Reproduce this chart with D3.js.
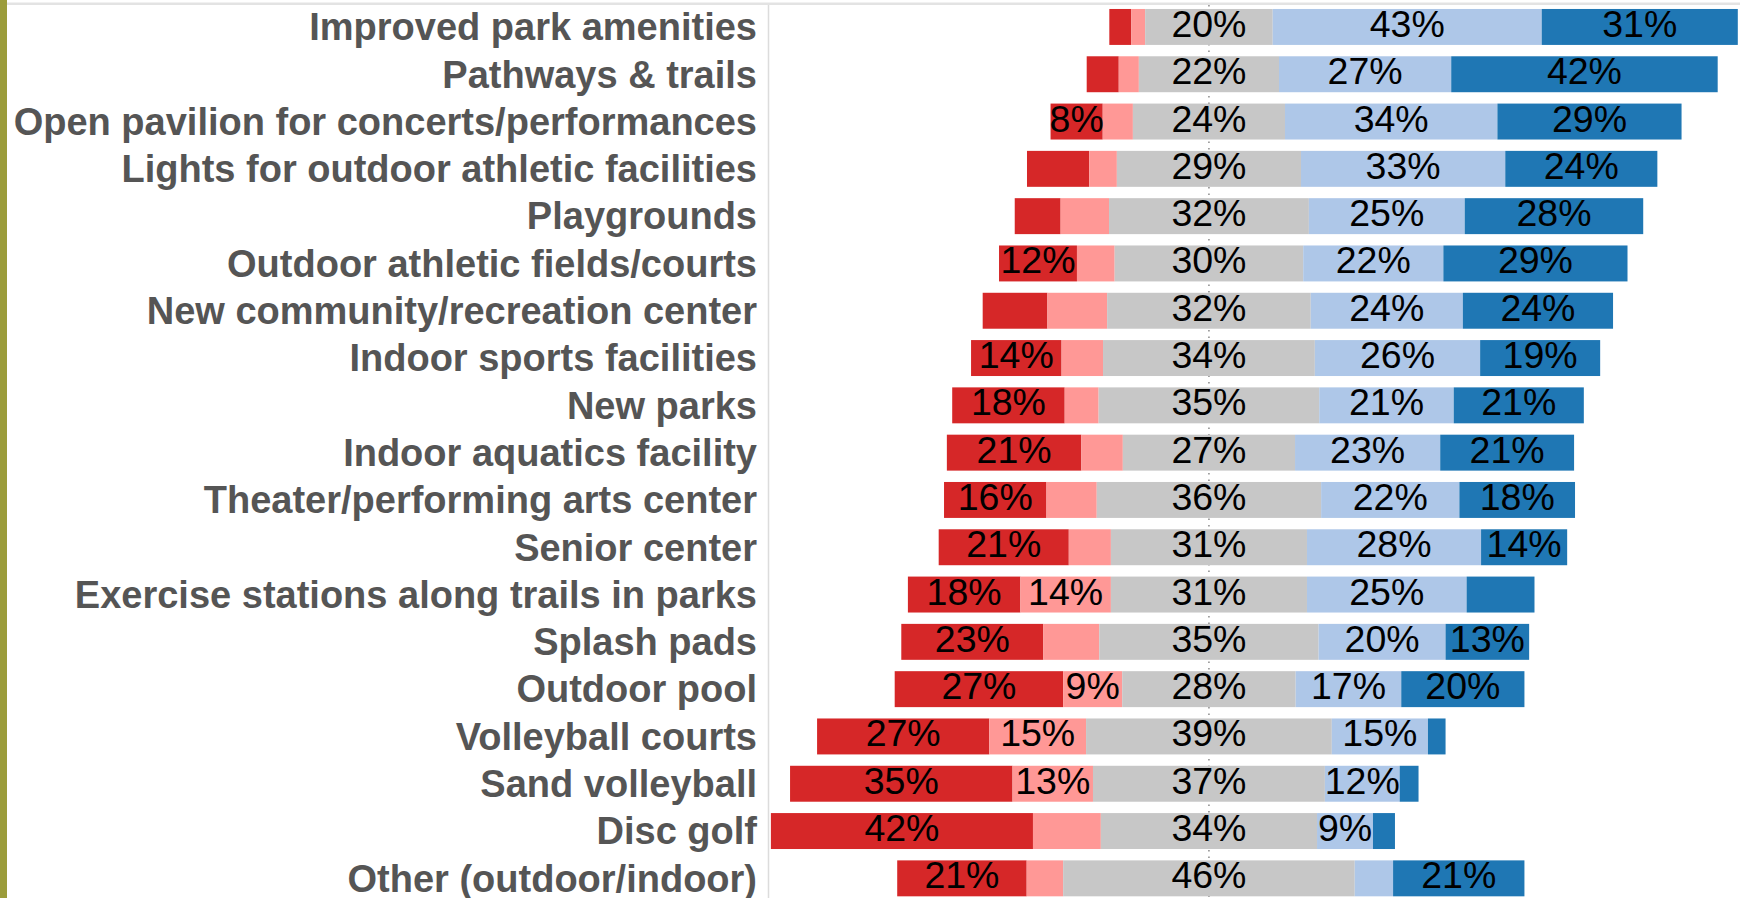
<!DOCTYPE html>
<html>
<head>
<meta charset="utf-8">
<script src="https://cdnjs.cloudflare.com/ajax/libs/d3/7.8.5/d3.min.js"></script>
<style>
  body { margin: 0; background: #fff; overflow: hidden; }
  svg { display: block; }
</style>
</head>
<body>
<svg id="chart"></svg>
<script>
// categories, top to bottom
var categories = [
  "Improved park amenities",
  "Pathways & trails",
  "Open pavilion for concerts/performances",
  "Lights for outdoor athletic facilities",
  "Playgrounds",
  "Outdoor athletic fields/courts",
  "New community/recreation center",
  "Indoor sports facilities",
  "New parks",
  "Indoor aquatics facility",
  "Theater/performing arts center",
  "Senior center",
  "Exercise stations along trails in parks",
  "Splash pads",
  "Outdoor pool",
  "Volleyball courts",
  "Sand volleyball",
  "Disc golf",
  "Other (outdoor/indoor)"
];

// percent of answers, one array per answer level
var notAtAll  = [3.5, 5.1, 8.3, 9.9, 7.3, 12.4, 10.3, 14.4, 17.9, 21.4, 16.3, 20.7, 17.9, 22.6, 26.8, 27.4, 35.4, 41.7, 20.6];
var notImp    = [2.2, 3.2, 4.8, 4.4, 7.7, 6.0, 9.5, 6.6, 5.4, 6.6, 8.0, 6.7, 14.4, 8.9, 9.4, 15.4, 12.8, 10.8, 5.8];
var neutral   = [20.3, 22.3, 24.2, 29.3, 31.8, 30.0, 32.4, 33.7, 35.1, 27.4, 35.7, 31.2, 31.2, 34.9, 27.6, 39.1, 36.9, 34.4, 46.4];
var important = [42.8, 27.4, 33.8, 32.5, 24.8, 22.3, 24.2, 26.3, 21.4, 23.1, 22.0, 27.7, 25.4, 20.2, 16.8, 15.3, 11.9, 8.9, 6.1];
var veryImp   = [31.2, 42.4, 29.3, 24.2, 28.4, 29.3, 23.9, 19.1, 20.7, 21.3, 18.4, 13.7, 10.8, 13.3, 19.6, 2.8, 3.0, 3.5, 20.9];

var seriesNames = ["Not at all important", "Not important", "Neutral", "Important", "Very important"];
var seriesColors = ["#d62728", "#ff9896", "#c7c7c7", "#aec7e8", "#1f77b4"];

// segments at or above this share get a label, except the ones listed
var labelMin = 8;
var unlabelled = [
  ["Lights for outdoor athletic facilities", 0],
  ["New community/recreation center", 0],
  ["New community/recreation center", 1],
  ["Theater/performing arts center", 1],
  ["Exercise stations along trails in parks", 4],
  ["Splash pads", 1],
  ["Disc golf", 1]
];

var width = 1740, height = 898;
var svg = d3.select("#chart").attr("width", width).attr("height", height);

var seriesValues = [notAtAll, notImp, neutral, important, veryImp];

// build the diverging segments, centred on the middle of the neutral part
var segments = [];
categories.forEach(function(cat, i) {
  var x0 = -(notAtAll[i] + notImp[i] + neutral[i] / 2);
  seriesValues.forEach(function(vals, s) {
    var hidden = unlabelled.some(function(u) { return u[0] === cat && u[1] === s; });
    segments.push({
      cat: cat, series: s, value: vals[i],
      x0: x0, x1: x0 + vals[i],
      showLabel: vals[i] >= labelMin && !hidden
    });
    x0 += vals[i];
  });
});

var xScale = d3.scaleLinear().domain([-70, 84.5]).range([769, 1740]);
var yScale = d3.scaleBand().domain(categories).range([3.3, 902]).paddingInner(0.24).paddingOuter(0.12);

// frame bits
svg.append("rect").attr("x", 7).attr("y", 2.5).attr("width", width - 7).attr("height", 2.5).attr("fill", "#e3e3e3");
svg.append("line")
  .attr("x1", 768.5).attr("x2", 768.5).attr("y1", 5).attr("y2", height)
  .attr("stroke", "#dcdcdc").attr("stroke-width", 1.5);

// centre reference line
svg.append("line")
  .attr("x1", xScale(0)).attr("x2", xScale(0)).attr("y1", 5).attr("y2", height)
  .attr("stroke", "#8a8a8a").attr("stroke-width", 1.5).attr("stroke-dasharray", "1.5,5");

svg.append("g")
  .selectAll("rect")
  .data(segments)
  .enter()
  .append("rect")
  .attr("x", function(d) { return xScale(d.x0); })
  .attr("y", function(d) { return yScale(d.cat); })
  .attr("width", function(d) { return xScale(d.x1) - xScale(d.x0); })
  .attr("height", yScale.bandwidth())
  .attr("fill", function(d) { return seriesColors[d.series]; });

svg.append("g")
  .selectAll("text")
  .data(segments.filter(function(d) { return d.showLabel; }))
  .enter()
  .append("text")
  .attr("x", function(d) { return xScale((d.x0 + d.x1) / 2); })
  .attr("y", function(d) { return yScale(d.cat) + yScale.bandwidth() / 2 + 10; })
  .attr("text-anchor", "middle")
  .attr("font-family", "'Liberation Sans', Arial, sans-serif")
  .attr("font-size", "37.5px")
  .attr("fill", "#000")
  .text(function(d) { return Math.round(d.value) + "%"; });

// category labels
svg.append("g")
  .selectAll("text")
  .data(categories)
  .enter()
  .append("text")
  .attr("x", 757)
  .attr("y", function(d) { return yScale(d) + yScale.bandwidth() / 2; })
  .attr("dy", "0.35em")
  .attr("text-anchor", "end")
  .attr("font-family", "'Liberation Sans', Arial, sans-serif")
  .attr("font-weight", "bold")
  .attr("font-size", "38px")
  .attr("fill", "#555")
  .text(function(d) { return d; });

// olive strip on the left edge
svg.append("rect").attr("x", 0).attr("y", 0).attr("width", 7).attr("height", height).attr("fill", "#9b9c3b");
</script>
</body>
</html>
